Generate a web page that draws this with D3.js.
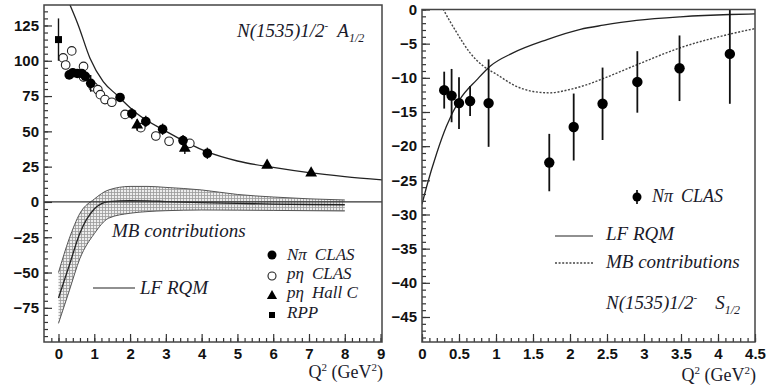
<!DOCTYPE html>
<html>
<head>
<meta charset="utf-8">
<script src="https://cdn.jsdelivr.net/npm/d3@7"></script>
<style>
  body { margin: 0; background: #fff; }
  .tick line { stroke: #333; stroke-width: 1.2; }
  .domain { display: none; }
</style>
</head>
<body>
<script>
// ---- left panel: A1/2 ----
// [Q2, value, error]
var npiClasA = [[0.3,90,3],[0.4,91.5,3],[0.525,91,3],[0.65,91,3],[0.75,89,3],[0.9,84,6],
                [1.72,74,3],[2.05,62.5,4],[2.44,57,4],[2.91,51.5,4],[3.48,43.5,4],[4.16,34.5,4]];
var etaClasA = [[0.13,102,3],[0.2,97,3],[0.37,107,3],[0.7,96,3],[0.7,88.5,3],[0.97,81.6,3],
                [1.1,79.5,3],[1.17,76,3],[1.3,72.5,3],[1.49,70.6,3],[1.86,62,3],[2.3,52.6,3],
                [2.72,46.7,3],[3.09,43,3],[3.67,41.5,3]];
var hallCA = [[2.2,54.5,4],[3.53,38,4],[5.83,26,1],[7.06,20.5,1]];
var rppA = [[0,115,15]];

var lfQ2A = [0.28, 0.55, 0.88, 1.25, 1.63, 2.18, 3.02, 4.14, 5, 6, 7, 8, 9.05];
var lfA = [142, 125.4, 101.8, 85.2, 75.8, 62.8, 49.8, 35.6, 29, 24.5, 20.8, 18, 15.6];

var bandQ2 = [0, 0.3, 0.6, 1.0, 1.4, 2.0, 2.5, 3, 4, 5, 6, 7, 8];
var mbUpper = [-50, -26, -8, 2, 8.5, 11, 11, 10.3, 8.5, 5.3, 3.5, 2.2, 1.4];
var mbMid = [-68, -45, -22, -5, 0.3, 1, 0.8, 0.3, -0.5, -1, -1.5, -1.8, -2];
var mbLower = [-86, -63, -40, -22.5, -11.5, -8, -6.8, -6.2, -5.7, -5.8, -6, -6.2, -6.4];

var leftXTicks = [0, 1, 2, 3, 4, 5, 6, 7, 8, 9];
var leftYTicks = [-75, -50, -25, 0, 25, 50, 75, 100, 125];

// ---- right panel: S1/2 ----
var npiClasS = [[0.3,-11.8,2.7],[0.4,-12.6,3.9],[0.5,-13.7,3.8],[0.65,-13.4,2.2],[0.9,-13.7,6.4],
                [1.72,-22.4,4.2],[2.05,-17.2,4.9],[2.44,-13.8,5.3],[2.91,-10.6,4.5],[3.48,-8.6,4.8],[4.16,-6.5,7.3]];
var lfQ2S = [0, 0.063, 0.2, 0.33, 0.51, 0.74, 0.92, 1.23, 1.69, 2.14, 2.45, 2.9, 3.49, 4.16, 4.5];
var lfS = [-28.5, -25.9, -21, -17.1, -13.2, -10.3, -8.3, -6.35, -4.4, -2.9, -2.3, -1.6, -1.07, -0.73, -0.65];
var mbQ2S = [0.2, 0.29, 0.47, 0.65, 0.83, 1.01, 1.23, 1.5, 1.73, 1.96, 2.2, 2.45, 2.9, 3.49, 4.16, 4.5];
var mbS = [2, 0, -3.4, -6.35, -8.3, -9.5, -11, -12, -12.2, -11.8, -11.1, -10.1, -8.1, -5.6, -3.6, -2.8];

var rightXTicks = [0, 0.5, 1, 1.5, 2, 2.5, 3, 3.5, 4, 4.5];
var rightYTicks = [0, -5, -10, -15, -20, -25, -30, -35, -40, -45];

var SERIF = "'Liberation Serif', 'Times New Roman', 'DejaVu Serif', serif";
var SANS = "'Liberation Sans', Arial, sans-serif";

var svg = d3.select("body").append("svg")
            .attr("width", 768).attr("height", 385);

// hatched pattern for the MB band
var pat = svg.append("defs").append("pattern")
             .attr("id", "hatch").attr("patternUnits", "userSpaceOnUse")
             .attr("width", 3).attr("height", 3);
pat.append("rect").attr("width", 3).attr("height", 3).attr("fill", "#ededed");
pat.append("path").attr("d", "M0,0.5H3M0.5,0V3").attr("stroke", "#9a9a9a").attr("stroke-width", 0.8);

svg.append("clipPath").attr("id", "clipL").append("rect")
   .attr("x", 44).attr("y", 5).attr("width", 338).attr("height", 337);
svg.append("clipPath").attr("id", "clipR").append("rect")
   .attr("x", 422).attr("y", 9).attr("width", 333).attr("height", 333);

function range(a, b, s) {
    var out = [];
    for (var v = a; v <= b + 1e-9; v += s) out.push(+v.toFixed(4));
    return out;
}

function label(g, xPos, yBase, txt, size) {
    return g.append("text").attr("x", xPos).attr("y", yBase)
            .style("font-family", SERIF).style("font-style", "italic")
            .style("font-size", (size || 19) + "px").style("fill", "#1a1a2a")
            .text(txt);
}

function styleTicks(sel) {
    sel.selectAll("text")
       .style("font-family", SANS).style("font-weight", "bold")
       .style("font-size", "15px").style("fill", "#111");
}

function drawAxes(x, y, xt, yt, xMinor, yMinor, fmtX) {
    var x0 = x.range()[0], y0 = y.range()[0];
    svg.append("g").attr("transform", "translate(0," + y0 + ")")
       .call(d3.axisBottom(x).tickValues(xMinor).tickSize(-4).tickFormat(""));
    svg.append("g").attr("transform", "translate(0," + y0 + ")")
       .call(d3.axisBottom(x).tickValues(xt).tickSize(-8).tickPadding(6).tickFormat(fmtX))
       .call(styleTicks);
    svg.append("g").attr("transform", "translate(" + x0 + ",0)")
       .call(d3.axisLeft(y).tickValues(yMinor).tickSize(-4).tickFormat(""));
    svg.append("g").attr("transform", "translate(" + x0 + ",0)")
       .call(d3.axisLeft(y).tickValues(yt).tickSize(-8).tickPadding(5).tickFormat(d3.format("d")))
       .call(styleTicks);
}

function frame(x, y) {
    svg.append("rect")
       .attr("x", x.range()[0]).attr("y", y.range()[1])
       .attr("width", x.range()[1] - x.range()[0])
       .attr("height", y.range()[0] - y.range()[1])
       .attr("fill", "none").attr("stroke", "#444").attr("stroke-width", 1.5);
}

function qLabel(xEnd, yBase) {
    var t = svg.append("text").attr("text-anchor", "end")
               .attr("x", xEnd).attr("y", yBase)
               .style("font-family", SERIF).style("font-size", "18px").style("fill", "#1a1a2a");
    t.append("tspan").text("Q");
    t.append("tspan").attr("dy", -7).style("font-size", "11px").text("2");
    t.append("tspan").attr("dy", 7).text(" (GeV");
    t.append("tspan").attr("dy", -7).style("font-size", "11px").text("2");
    t.append("tspan").attr("dy", 7).text(")");
}

function stateLabel(xPos, yBase, amp, gap) {
    var t = label(svg, xPos, yBase, null, 19);
    t.append("tspan").text("N(1535)1/2");
    t.append("tspan").attr("dy", -8).style("font-size", "11px").text("-");
    t.append("tspan").attr("dy", 8).attr("dx", gap).text(amp);
    t.append("tspan").attr("dy", 5).style("font-size", "12px").text("1/2");
}

// =========== LEFT ===========
var xL = d3.scaleLinear().domain([-0.405, 9.04]).range([44, 382]);
var yL = d3.scaleLinear().domain([-99.2, 139.5]).range([342, 5]);

var gL = svg.append("g").attr("clip-path", "url(#clipL)");

var bandArea = d3.area()
    .x(function(d, i) { return xL(bandQ2[i]); })
    .y0(function(d, i) { return yL(mbLower[i]); })
    .y1(function(d, i) { return yL(mbUpper[i]); })
    .curve(d3.curveMonotoneX);
gL.append("path").datum(bandQ2).attr("d", bandArea)
  .attr("fill", "url(#hatch)").attr("stroke", "none");

function lineOf(xs, ys, x, y) {
    return d3.line().x(function(d, i) { return x(xs[i]); })
                    .y(function(d, i) { return y(ys[i]); })
                    .curve(d3.curveMonotoneX)(xs);
}
[mbUpper, mbLower].forEach(function(arr) {
    gL.append("path").attr("d", lineOf(bandQ2, arr, xL, yL))
      .attr("fill", "none").attr("stroke", "#555").attr("stroke-width", 1);
});
gL.append("path").attr("d", lineOf(bandQ2, mbMid, xL, yL))
  .attr("fill", "none").attr("stroke", "#222").attr("stroke-width", 1.3);

// zero line
gL.append("line").attr("x1", 44).attr("x2", 382)
  .attr("y1", yL(0)).attr("y2", yL(0))
  .attr("stroke", "#333").attr("stroke-width", 1.3);

gL.append("path").attr("d", lineOf(lfQ2A, lfA, xL, yL))
  .attr("fill", "none").attr("stroke", "#222").attr("stroke-width", 1.3);

function errBars(g, data, x, y, w) {
    g.selectAll(null).data(data).enter().append("line")
     .attr("x1", function(d) { return x(d[0]); }).attr("x2", function(d) { return x(d[0]); })
     .attr("y1", function(d) { return y(d[1] - d[2]); })
     .attr("y2", function(d) { return y(d[1] + d[2]); })
     .attr("stroke", "#111").attr("stroke-width", w);
}

errBars(gL, etaClasA, xL, yL, 1.2);
gL.selectAll(null).data(etaClasA).enter().append("circle")
  .attr("cx", function(d) { return xL(d[0]); }).attr("cy", function(d) { return yL(d[1]); })
  .attr("r", 4.3).attr("fill", "#fff").attr("stroke", "#222").attr("stroke-width", 1.1);

errBars(gL, npiClasA, xL, yL, 1.4);
gL.selectAll(null).data(npiClasA).enter().append("circle")
  .attr("cx", function(d) { return xL(d[0]); }).attr("cy", function(d) { return yL(d[1]); })
  .attr("r", 4.8).attr("fill", "#000");

errBars(gL, hallCA, xL, yL, 1.4);
var tri = d3.symbol().type(d3.symbolTriangle).size(60);
gL.selectAll(null).data(hallCA).enter().append("path")
  .attr("d", tri)
  .attr("transform", function(d) { return "translate(" + xL(d[0]) + "," + yL(d[1]) + ")"; })
  .attr("fill", "#000");

errBars(gL, rppA, xL, yL, 1.4);
gL.selectAll(null).data(rppA).enter().append("rect")
  .attr("x", function(d) { return xL(d[0]) - 3.5; }).attr("y", function(d) { return yL(d[1]) - 3.5; })
  .attr("width", 7).attr("height", 7).attr("fill", "#000");

drawAxes(xL, yL, leftXTicks, leftYTicks, range(-0.2, 9, 0.2), range(-95, 135, 5), d3.format("d"));
frame(xL, yL);

stateLabel(237, 37, "A", 9);

label(svg, 112, 237, "MB contributions");
svg.append("line").attr("x1", 93).attr("x2", 135).attr("y1", 288).attr("y2", 288)
   .attr("stroke", "#222").attr("stroke-width", 1.2);
label(svg, 140, 294, "LF RQM");

// legend: symbol, name and lab kept apart with a wide gap like the original
var legL = svg.append("g");
function legEntry(yBase, a, b) {
    var t = label(legL, 287, yBase, null, 17);
    t.append("tspan").text(a);
    t.append("tspan").attr("dx", 8).text(b);
}
legL.append("circle").attr("cx", 272).attr("cy", 255).attr("r", 4.5).attr("fill", "#000");
legEntry(260, "N\u03c0", "CLAS");
legL.append("circle").attr("cx", 272).attr("cy", 276).attr("r", 4).attr("fill", "#fff")
    .attr("stroke", "#222").attr("stroke-width", 1.1);
legEntry(279, "p\u03b7", "CLAS");
legL.append("path").attr("d", d3.symbol().type(d3.symbolTriangle).size(45))
    .attr("transform", "translate(272,296)").attr("fill", "#000");
legEntry(298, "p\u03b7", "Hall C");
legL.append("rect").attr("x", 269).attr("y", 312).attr("width", 6).attr("height", 6).attr("fill", "#000");
label(legL, 287, 318, "RPP", 17);

qLabel(383, 378);

// =========== RIGHT ===========
var xR = d3.scaleLinear().domain([0, 4.5]).range([422, 755]);
var yR = d3.scaleLinear().domain([-48.66, 0]).range([342, 9.5]);

var gR = svg.append("g").attr("clip-path", "url(#clipR)");

gR.append("path").attr("d", lineOf(lfQ2S, lfS, xR, yR))
  .attr("fill", "none").attr("stroke", "#222").attr("stroke-width", 1.3);
gR.append("path").attr("d", lineOf(mbQ2S, mbS, xR, yR))
  .attr("fill", "none").attr("stroke", "#444").attr("stroke-width", 1.4)
  .attr("stroke-dasharray", "2,1.6");

errBars(gR, npiClasS, xR, yR, 1.8);
gR.selectAll(null).data(npiClasS).enter().append("circle")
  .attr("cx", function(d) { return xR(d[0]); }).attr("cy", function(d) { return yR(d[1]); })
  .attr("r", 5.2).attr("fill", "#000");

drawAxes(xR, yR, rightXTicks, rightYTicks, range(0, 4.5, 0.1), range(-48, 0, 1), d3.format("~g"));
frame(xR, yR);

var legR = svg.append("g");
legR.append("line").attr("x1", 637).attr("x2", 637).attr("y1", 190).attr("y2", 204)
    .attr("stroke", "#000").attr("stroke-width", 1.6);
legR.append("circle").attr("cx", 637).attr("cy", 197).attr("r", 4.5).attr("fill", "#000");
var tR = label(legR, 652, 202, null, 18);
tR.append("tspan").text("N\u03c0");
tR.append("tspan").attr("dx", 8).text("CLAS");
legR.append("line").attr("x1", 555).attr("x2", 593).attr("y1", 236).attr("y2", 236)
    .attr("stroke", "#222").attr("stroke-width", 1.2);
label(legR, 606, 240, "LF RQM");
legR.append("line").attr("x1", 555).attr("x2", 593).attr("y1", 263).attr("y2", 263)
    .attr("stroke", "#444").attr("stroke-width", 1.3).attr("stroke-dasharray", "2,1.6");
label(legR, 606, 268, "MB contributions");

stateLabel(606, 309, "S", 18);

qLabel(756, 381);
</script>
</body>
</html>
